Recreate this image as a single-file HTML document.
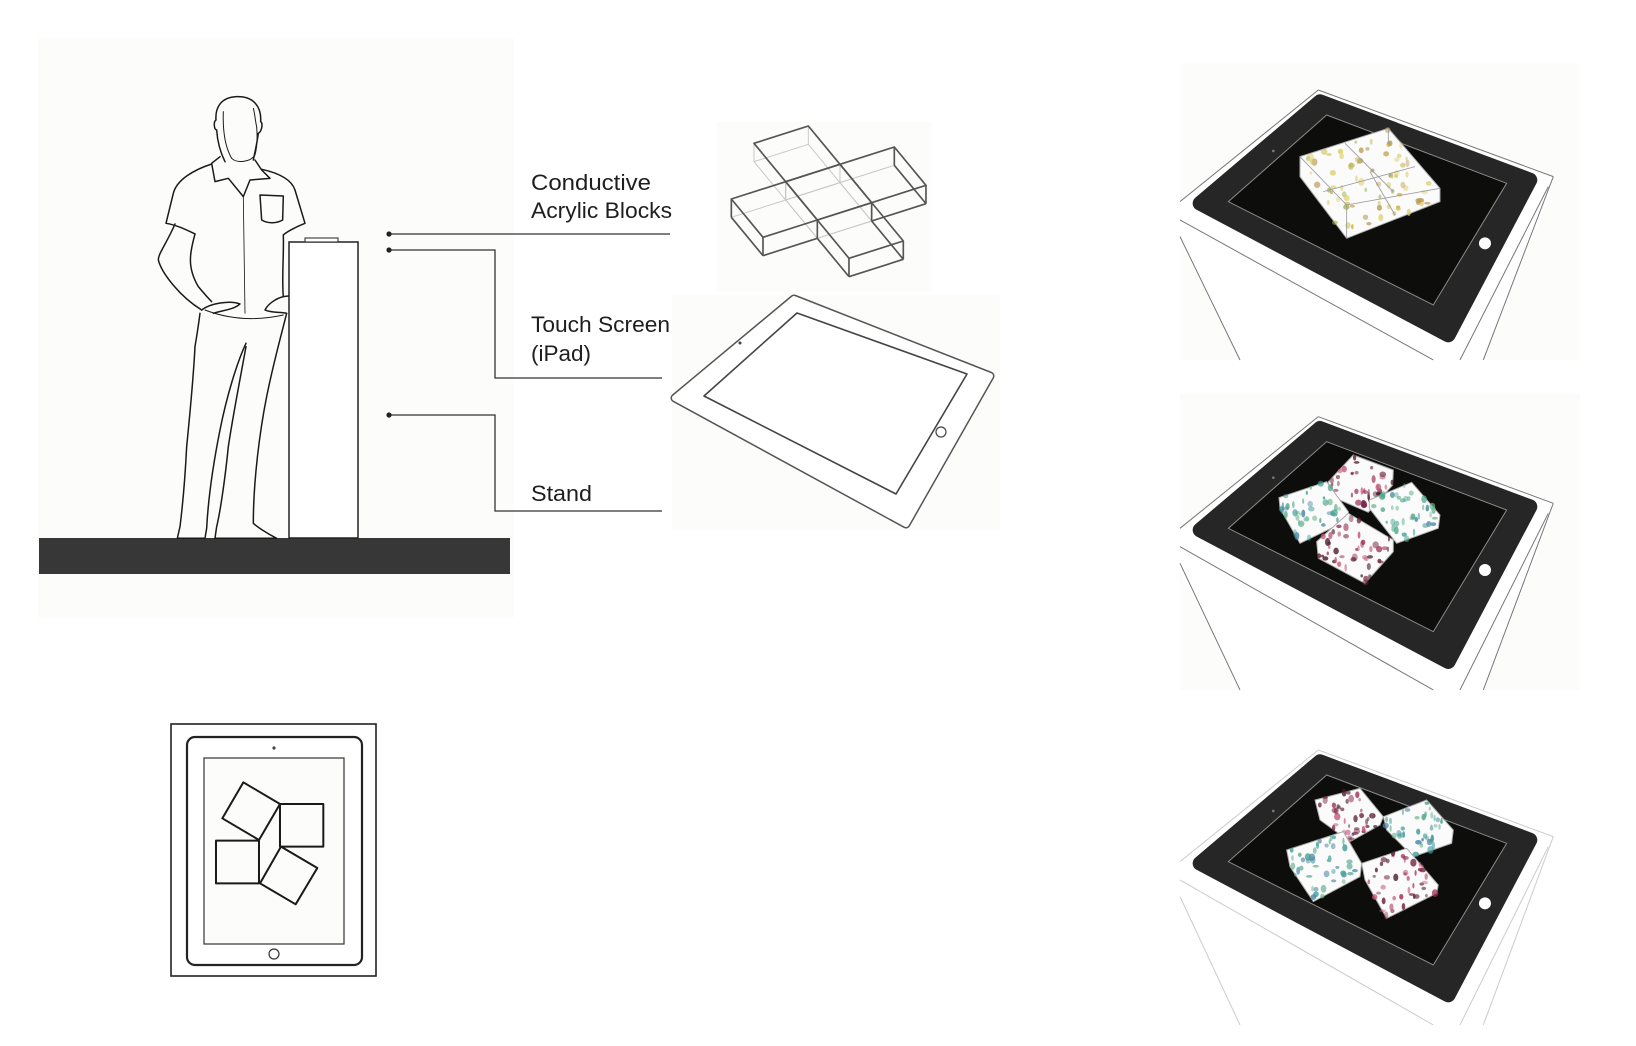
<!DOCTYPE html>
<html><head><meta charset="utf-8"><style>
html,body{margin:0;padding:0;background:#fff;width:1636px;height:1046px;overflow:hidden}
svg{display:block}
text{font-family:"Liberation Sans",sans-serif;fill:#1e1e1e;font-size:22px}
</style></head><body>
<svg id="s" width="1636" height="1046" viewBox="0 0 1636 1046" xmlns="http://www.w3.org/2000/svg">
<rect width="1636" height="1046" fill="#fff"/>
<!-- left panel -->
<rect x="38" y="38" width="476" height="580" fill="#fcfcfb"/>
<rect x="39" y="538" width="471" height="36" fill="#373737"/>
<rect x="289" y="242" width="69" height="296" fill="#fff" stroke="#222" stroke-width="1.5"/>
<rect x="305" y="238" width="33" height="4" fill="#fff" stroke="#222" stroke-width="1"/>
<g transform="translate(140,80) scale(0.3333)" fill="none" stroke="#1a1a1a" stroke-width="4.5" stroke-linejoin="round" stroke-linecap="round">
<path d="M255,245 C240,215 232,180 230,150 C222,148 220,125 228,120 C225,80 245,52 290,50 C340,48 365,80 362,125 C370,130 365,155 355,160 C352,185 345,215 340,240"/>
<path d="M250,95 C248,150 255,200 275,235 C290,250 330,248 345,225 C352,200 352,165 350,140 C345,120 345,100 340,85" stroke-width="3"/>
<path d="M240,230 L215,250 L225,305 L265,295 L310,350 L330,300 L390,295 L365,270 L345,240"/>
<path d="M215,252 C160,270 110,300 100,340 L78,430 C110,435 140,450 165,462"/>
<path d="M365,268 C420,280 455,300 465,330 L495,430 C470,440 440,455 430,465"/>
<path d="M105,432 C80,490 55,520 55,540 C65,580 120,650 185,690"/>
<path d="M165,462 C150,520 140,560 175,620 C200,650 210,660 215,665"/>
<path d="M430,465 C432,520 425,600 430,650 L445,648"/>
<path d="M185,690 C210,670 270,660 300,672 C280,690 250,690 220,700"/>
<path d="M430,650 C410,655 385,670 375,690 C395,700 420,695 440,700"/>
<path d="M180,700 C175,740 170,770 165,800 C160,900 150,1000 140,1100 C135,1200 125,1300 120,1340 L112,1375 L195,1375 L200,1345 C205,1250 220,1150 240,1050 C260,950 290,850 318,790"/>
<path d="M318,800 C300,900 280,1000 265,1100 C255,1200 240,1300 230,1340 L225,1375 L410,1375 C380,1360 350,1340 340,1330 C340,1200 360,1050 380,950 C400,850 420,780 440,700"/>
<path d="M195,690 C260,715 340,725 430,705" stroke-width="3"/>
<path d="M360,345 L430,348 L428,420 C410,430 385,432 365,420 Z"/>
<path d="M310,350 L315,700" stroke-width="2.5"/>
</g>
<!-- leader lines -->
<g stroke="#333" stroke-width="1.3" fill="none">
<path d="M389,234 H670"/>
<path d="M389,250 H495 V378 H662"/>
<path d="M389,415 H495 V511 H662"/>
</g>
<g fill="#222"><circle cx="389" cy="234" r="2.6"/><circle cx="389" cy="250" r="2.6"/><circle cx="389" cy="415" r="2.6"/></g>
<text x="531" y="190" textLength="120" lengthAdjust="spacingAndGlyphs">Conductive</text>
<text x="531" y="218" textLength="141" lengthAdjust="spacingAndGlyphs">Acrylic Blocks</text>
<text x="531" y="332" textLength="139" lengthAdjust="spacingAndGlyphs">Touch Screen</text>
<text x="531" y="361" textLength="60" lengthAdjust="spacingAndGlyphs">(iPad)</text>
<text x="531" y="501" textLength="61" lengthAdjust="spacingAndGlyphs">Stand</text>
<!-- cross blocks -->
<rect x="672" y="295" width="328" height="235" fill="#fcfcfb"/>
<g id="cross" transform="translate(670,100) scale(0.3333)" fill="none" stroke-linejoin="round">
<rect x="140" y="65" width="645" height="510" fill="#fcfcfb" stroke="none"/>
</g>
<!-- big ipad -->
<g fill="none" stroke="#444" stroke-linejoin="round">
<path d="M794,299 L990,376 L906,524 L675,398 Z" stroke-width="9" stroke="#555"/>
<path d="M794,299 L990,376 L906,524 L675,398 Z" stroke-width="6" stroke="#fff" fill="#fff"/>
<path d="M797,313 L967,374 L896,494 L704,396 Z" stroke-width="1.6"/>
<circle cx="941" cy="432" r="5" stroke-width="1.2"/>
</g>
<circle cx="740" cy="343" r="1.5" fill="#444"/>
<!-- small ipad -->
<rect x="171" y="724" width="205" height="252" fill="#fff" stroke="#222" stroke-width="1.6"/>
<rect x="187" y="737" width="175" height="228" rx="8" fill="#fff" stroke="#222" stroke-width="2.2"/>
<rect x="204" y="758" width="140" height="186" fill="#fcfcfb" stroke="#333" stroke-width="1.2"/>
<circle cx="274" cy="748" r="1.6" fill="#444"/>
<circle cx="274" cy="954" r="5" fill="none" stroke="#333" stroke-width="1.2"/>
<g transform="translate(150,710) scale(0.3333)" fill="none" stroke="#1a1a1a" stroke-width="6" stroke-linejoin="round">
<path d="M280,217 L390,282 L327,390 L217,325 Z"/>
<path d="M390,282 L520,282 L520,410 L390,410 Z"/>
<path d="M198,392 L327,392 L327,520 L198,520 Z"/>
<path d="M393,410 L502,474 L437,583 L330,520 Z"/>
</g>
<!-- right panels -->
<g id="p1" transform="translate(1180,55) scale(0.3333)"></g>
<g id="p2" transform="translate(1180,385) scale(0.3333)"></g>
<g id="p3" transform="translate(1180,720) scale(0.3333)"></g>
</svg>
<script>
(function(){
var NS="http://www.w3.org/2000/svg";
function el(p,t,a){var e=document.createElementNS(NS,t);for(var k in a)e.setAttribute(k,a[k]);p.appendChild(e);return e;}
var seed=7;function rnd(){seed=(seed*16807)%2147483647;return seed/2147483647;}
function inPoly(x,y,P){var c=false;for(var i=0,j=P.length-1;i<P.length;j=i++){var xi=P[i][0],yi=P[i][1],xj=P[j][0],yj=P[j][1];if(((yi>y)!=(yj>y))&&(x<(xj-xi)*(y-yi)/(yj-yi)+xi))c=!c;}return c;}
/* cross */
var cg=document.getElementById("cross");
var A=[163,-52],B=[95,115],G0=[89,182],D=55;
function pt(i,j,dz){return [G0[0]+i*A[0]+j*B[0],G0[1]+i*A[1]+j*B[1]+(dz||0)];}
var cells=[[1,0],[0,1],[1,1],[2,1],[1,2]];
function pl(P){return P.map(function(p){return p.join(",")}).join(" ");}
cells.forEach(function(c){var i=c[0],j=c[1];
 var bot=[pt(i,j,D),pt(i+1,j,D),pt(i+1,j+1,D),pt(i,j+1,D)];
 el(cg,"polygon",{points:pl(bot),stroke:"#c8c8c8","stroke-width":3});
 [[i,j],[i+1,j],[i+1,j+1],[i,j+1]].forEach(function(q){var p1=pt(q[0],q[1]),p2=pt(q[0],q[1],D);el(cg,"line",{x1:p1[0],y1:p1[1],x2:p2[0],y2:p2[1],stroke:"#c8c8c8","stroke-width":3});});
});
cells.forEach(function(c){var i=c[0],j=c[1];
 var top=[pt(i,j),pt(i+1,j),pt(i+1,j+1),pt(i,j+1)];
 el(cg,"polygon",{points:pl(top),stroke:"#555","stroke-width":5});
});
/* outer visible front edges */
[[[0,1],[0,2]],[[0,2],[1,2]],[[1,2],[1,3]],[[1,3],[2,3]],[[2,3],[2,2]],[[2,2],[3,2]],[[3,2],[3,1]]].forEach(function(e){
 var a=pt(e[0][0],e[0][1]),b=pt(e[1][0],e[1][1]);
 el(cg,"path",{d:"M"+a[0]+","+(a[1]+D)+" L"+b[0]+","+(b[1]+D),stroke:"#555","stroke-width":5});
});
[[0,1],[0,2],[1,3],[2,3],[3,2],[3,1],[1,2],[2,2]].forEach(function(q){var a=pt(q[0],q[1]);el(cg,"line",{x1:a[0],y1:a[1],x2:a[0],y2:a[1]+D,stroke:"#555","stroke-width":5});});

function panel(id,dy,bg,light){
 var g=document.getElementById(id);
 if(bg)el(g,"rect",{x:0,y:25,width:1200,height:890,fill:"#fcfcfb"});
 var sc=light?"#ccc":"#777";
 el(g,"polygon",{points:"0,440 415,"+(105+dy)+" 1120,"+(365+dy)+" 1110,"+(420+dy)+" 910,915 180,915 0,560",fill:"#fff"});
 var L=[[415,105+dy,1120,365+dy],[415,105+dy,0,440+dy],[0,495+dy,760,915],[0,545+dy,180,915],[1120,365+dy,910,915],[1105,395+dy,840,915]];
 L.forEach(function(l){el(g,"line",{x1:l[0],y1:l[1],x2:l[2],y2:l[3],stroke:sc,"stroke-width":3});});
 el(g,"polygon",{points:"420,"+(140+dy)+" 1050,"+(375+dy)+" 805,"+(840+dy)+" 60,"+(445+dy),fill:"#262626",stroke:"#262626","stroke-width":44,"stroke-linejoin":"round"});
 el(g,"polygon",{points:"440,"+(180+dy)+" 980,"+(385+dy)+" 760,"+(750+dy)+" 145,"+(440+dy),fill:"#0d0d0b",stroke:"#8a8a8a","stroke-width":3});
 el(g,"circle",{cx:915,cy:565+dy,r:18,fill:"#fff"});
 el(g,"circle",{cx:280,cy:288+dy,r:4,fill:"#777"});
}
function box(id,P,cols,n){
 var g=document.getElementById(id);
 el(g,"polygon",{points:pl(P),fill:"#fbfbfb",stroke:"#aaa","stroke-width":3});
 var xs=P.map(function(p){return p[0]}),ys=P.map(function(p){return p[1]});
 var x0=Math.min.apply(0,xs),x1=Math.max.apply(0,xs),y0=Math.min.apply(0,ys),y1=Math.max.apply(0,ys);
 for(var i=0;i<n;){var x=x0+rnd()*(x1-x0),y=y0+rnd()*(y1-y0);if(!inPoly(x,y,P))continue;i++;
  el(g,"ellipse",{cx:x,cy:y,rx:3+rnd()*7,ry:4+rnd()*8,fill:cols[Math.floor(rnd()*cols.length)],opacity:0.45+rnd()*0.4});}
}
var Y=["#c9b23a","#d8c95a","#9bb347","#b99a55","#e0d070"],G=["#4fa68a","#3f9f9a","#6cb58f","#4d87a8"],R=["#6b1f3a","#9c2d55","#c2577a","#4a1a2a"];
panel("p1",0,true,false);
box("p1",[[360,305],[625,220],[780,400],[780,440],[500,550],[360,365]],Y,80);
var g1=document.getElementById("p1");
[[360,305,500,450],[500,450,780,400],[495,265,640,410],[625,220,625,265],[430,410,705,335],[570,350,645,480],[500,450,500,550]].forEach(function(l){el(g1,"line",{x1:l[0],y1:l[1],x2:l[2],y2:l[3],stroke:"#999","stroke-width":2.5});});
panel("p2",-10,true,false);
box("p2",[[445,290],[520,210],[640,255],[638,300],[565,382],[445,330]],R,40);
box("p2",[[297,338],[440,290],[505,380],[505,405],[360,475],[300,370]],G,40);
box("p2",[[568,345],[695,292],[780,390],[775,430],[650,475],[568,370]],G,40);
box("p2",[[410,470],[505,385],[640,465],[640,500],[555,595],[415,520]],R,45);
panel("p3",-15,false,true);
box("p3",[[405,240],[540,205],[610,290],[600,315],[510,365],[420,300]],R,40);
box("p3",[[610,290],[740,240],[820,330],[815,370],[700,410],[620,330]],G,40);
box("p3",[[320,390],[490,335],[545,430],[540,470],[400,545],[330,440]],G,45);
box("p3",[[545,430],[680,385],[775,495],[770,520],[620,595],[555,480]],R,45);
})();
</script>
</body></html>
